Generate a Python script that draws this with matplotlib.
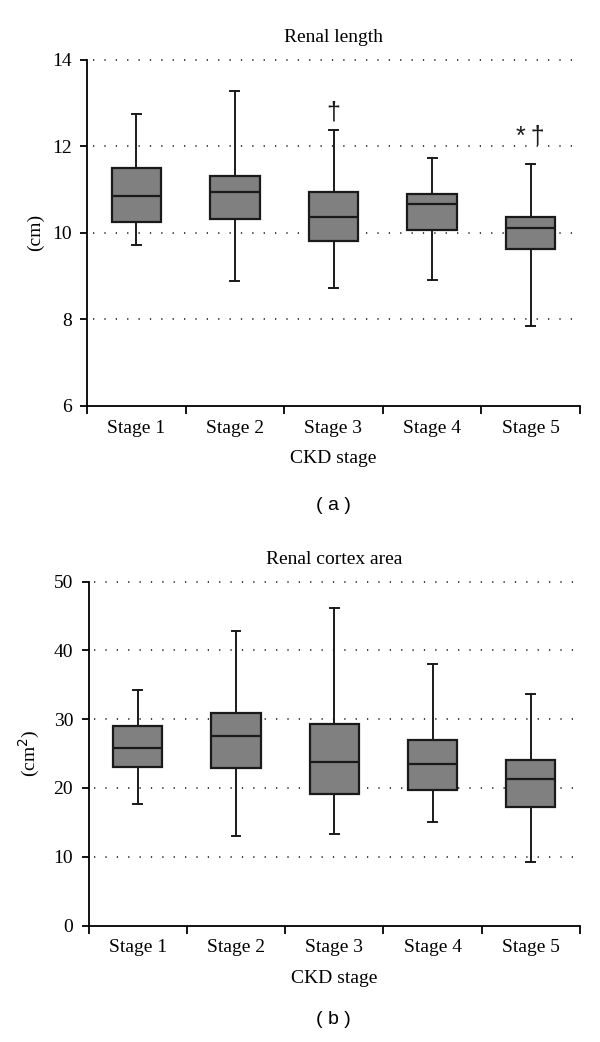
import matplotlib
matplotlib.use("Agg")
import matplotlib.pyplot as plt

stages = ["Stage 1", "Stage 2", "Stage 3", "Stage 4", "Stage 5"]

# Panel (a): Renal length (cm)
len_whislo = [9.73, 8.89, 8.72, 8.91, 7.84]
len_q1     = [10.24, 10.32, 9.82, 10.07, 9.62]
len_med    = [10.85, 10.94, 10.36, 10.67, 10.12]
len_q3     = [11.49, 11.31, 10.95, 10.89, 10.36]
len_whishi = [12.74, 13.29, 12.39, 11.74, 11.59]
len_marks  = {3: ("\u2020", 12.78), 5: ("*\u2009\u2020", 12.22)}

# Panel (b): Renal cortex area (cm2)
area_whislo = [17.72, 13.06, 13.26, 15.10, 9.23]
area_q1     = [23.10, 22.90, 19.07, 19.70, 17.18]
area_med    = [25.86, 27.56, 23.82, 23.49, 21.30]
area_q3     = [28.96, 30.95, 29.30, 27.02, 24.07]
area_whishi = [34.25, 42.78, 46.17, 37.98, 33.71]

SERIF = "Liberation Serif"
SANS = "Liberation Sans"
FS = 14

fig = plt.figure(figsize=(6.0, 10.42), dpi=100)
ax_a = fig.add_axes([87/600, 1 - 405.7/1042, (580-87)/600, (405.7-60)/1042])
ax_b = fig.add_axes([88.5/600, 1 - 925.5/1042, (580-88.5)/600, (925.5-581.7)/1042])


def draw(ax, lo, q1, med, q3, hi, ylim, yticks, title, ylabel, ylabelpad):
    stats = []
    for i in range(len(stages)):
        stats.append(dict(whislo=lo[i], q1=q1[i], med=med[i], q3=q3[i],
                          whishi=hi[i], fliers=[], label=stages[i]))
    pos = list(range(1, len(stages) + 1))
    ax.bxp(stats, positions=pos, widths=0.5, capwidths=0.09,
           patch_artist=True, showfliers=False, manage_ticks=False,
           boxprops=dict(facecolor="#808080", edgecolor="#1a1a1a", linewidth=1.6),
           medianprops=dict(color="#1a1a1a", linewidth=1.6),
           whiskerprops=dict(color="#1a1a1a", linewidth=1.4),
           capprops=dict(color="#1a1a1a", linewidth=1.4),
           zorder=3)
    ax.set_xlim(0.5, len(stages) + 0.5)
    ax.set_ylim(*ylim)
    ax.set_yticks(yticks)
    ax.set_yticklabels([str(t) for t in yticks], fontfamily=SERIF, fontsize=FS)
    for t in yticks[1:]:
        ax.plot([0.5 + 0.06, len(stages) + 0.45], [t, t], color="#333333",
                linewidth=1.3, linestyle=(0, (0.7, 5.6)), zorder=1,
                clip_on=False)
    ax.set_xticks([i + 0.5 for i in range(len(stages) + 1)])
    ax.set_xticklabels([])
    ax.set_xticks(pos, minor=True)
    ax.set_xticklabels(stages, minor=True, fontfamily=SERIF, fontsize=FS)
    ax.tick_params(axis="x", which="minor", length=0, pad=10)
    ax.tick_params(axis="x", which="major", length=6, width=1.3, direction="out")
    ax.tick_params(axis="y", length=5, width=1.3, direction="out", pad=6)
    for s in ("top", "right"):
        ax.spines[s].set_visible(False)
    for s in ("left", "bottom"):
        ax.spines[s].set_linewidth(1.3)
    ax.set_title(title, fontfamily=SERIF, fontsize=FS, pad=13)
    ax.set_xlabel("CKD stage", fontfamily=SERIF, fontsize=FS, labelpad=10)
    ax.set_ylabel(ylabel, fontfamily=SERIF, fontsize=FS, labelpad=ylabelpad)


draw(ax_a, len_whislo, len_q1, len_med, len_q3, len_whishi, (6, 14),
     [6, 8, 10, 12, 14], "Renal length", "(cm)", 6)
for x, (txt, y) in len_marks.items():
    ax_a.text(x, y, txt, ha="center", va="center", fontsize=18,
              fontfamily=[SANS, "DejaVu Sans"], color="#1a1a1a")

draw(ax_b, area_whislo, area_q1, area_med, area_q3, area_whishi, (0, 50),
     [0, 10, 20, 30, 40, 50], "Renal cortex area", "(cm$^2$)", 8)

fig.text(333/600, 1 - 505/1042, "( a )", ha="center", va="center",
         fontfamily=SANS, fontsize=14)
fig.text(333/600, 1 - 1020/1042, "( b )", ha="center", va="center",
         fontfamily=SANS, fontsize=14)

fig.savefig("out.png", dpi=100)
